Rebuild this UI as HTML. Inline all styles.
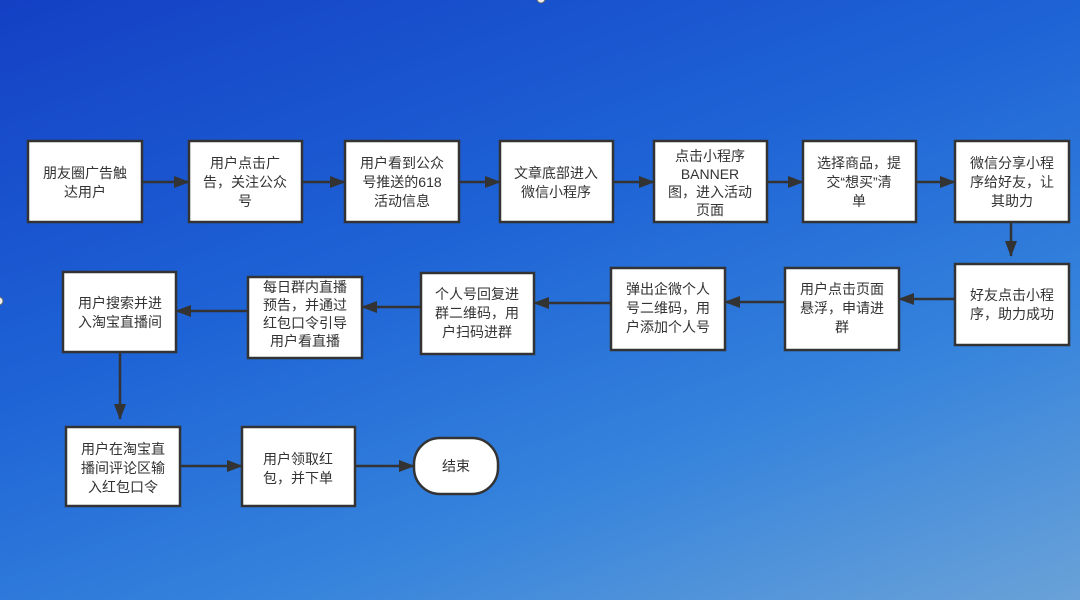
<!DOCTYPE html>
<html><head><meta charset="utf-8"><style>
html,body{margin:0;padding:0;}
body{width:1080px;height:600px;overflow:hidden;background:linear-gradient(160deg,#1440c4 0%,#1e63d6 40%,#3583dc 70%,#6aa2d8 100%);}
svg{display:block}
text{font-family:"Liberation Sans","Noto Sans CJK SC",sans-serif;font-size:14px;fill:#333;text-anchor:middle;}
</style></head><body>
<svg width="1080" height="600" viewBox="0 0 1080 600">
<defs><marker id="a" markerWidth="10" markerHeight="10" refX="9" refY="5" orient="auto" markerUnits="userSpaceOnUse"><path d="M0,0 L10,5 L0,10 z" fill="#333"/></marker>
<marker id="ah" markerWidth="16" markerHeight="12" refX="15" refY="6" orient="auto" markerUnits="userSpaceOnUse"><path d="M0,0 L16,6 L0,12 z" fill="#333"/></marker></defs>
<circle cx="541" cy="-1" r="4" fill="#eee" stroke="#666"/>
<circle cx="-1" cy="301" r="4" fill="#eee" stroke="#666"/>
<g stroke="#333" stroke-width="2.5" fill="none" marker-end="url(#ah)">
<line x1="142" y1="182" x2="189" y2="182"/>
<line x1="302" y1="182" x2="345" y2="182"/>
<line x1="459" y1="182" x2="500" y2="182"/>
<line x1="613" y1="182" x2="654" y2="182"/>
<line x1="767" y1="182" x2="803" y2="182"/>
<line x1="916" y1="182" x2="955" y2="182"/>
<line x1="1011" y1="222" x2="1011" y2="256"/>
<line x1="955" y1="299" x2="899" y2="299"/>
<line x1="785" y1="302" x2="725" y2="302"/>
<line x1="611" y1="303" x2="534" y2="303"/>
<line x1="421" y1="307" x2="362" y2="307"/>
<line x1="248" y1="311" x2="176" y2="311"/>
<line x1="120" y1="352" x2="120" y2="419"/>
<line x1="180" y1="466" x2="242" y2="466"/>
<line x1="355" y1="466" x2="414" y2="466"/>
</g>
<g fill="#fff" stroke="#333" stroke-width="2.5">
<rect x="28" y="141" width="114" height="81"/>
<rect x="189" y="141" width="113" height="81"/>
<rect x="345" y="141" width="114" height="81"/>
<rect x="500" y="141" width="113" height="81"/>
<rect x="654" y="141" width="113" height="81"/>
<rect x="803" y="141" width="113" height="81"/>
<rect x="955" y="141" width="114" height="81"/>
<rect x="955" y="264" width="114" height="81"/>
<rect x="785" y="268" width="114" height="82"/>
<rect x="611" y="268" width="114" height="82"/>
<rect x="421" y="273" width="113" height="81"/>
<rect x="248" y="277" width="114" height="81"/>
<rect x="63" y="272" width="113" height="80"/>
<rect x="66" y="427" width="114" height="79"/>
<rect x="242" y="427" width="113" height="79"/>
<rect x="414" y="438" width="84" height="56" rx="26"/>
</g>
<text x="85" y="178">朋友圈广告触</text><text x="85" y="197">达用户</text>
<text x="245" y="168">用户点击广</text><text x="245" y="187">告，关注公众</text><text x="245" y="206">号</text>
<text x="402" y="168">用户看到公众</text><text x="402" y="187">号推送的618</text><text x="402" y="206">活动信息</text>
<text x="556" y="178">文章底部进入</text><text x="556" y="197">微信小程序</text>
<text x="710" y="161">点击小程序</text><text x="710" y="179">BANNER</text><text x="710" y="197">图，进入活动</text><text x="710" y="215">页面</text>
<text x="859" y="168">选择商品，提</text><text x="859" y="187">交“想买”清</text><text x="859" y="206">单</text>
<text x="1012" y="168">微信分享小程</text><text x="1012" y="187">序给好友，让</text><text x="1012" y="206">其助力</text>
<text x="1012" y="300">好友点击小程</text><text x="1012" y="319">序，助力成功</text>
<text x="842" y="294">用户点击页面</text><text x="842" y="313">悬浮，申请进</text><text x="842" y="332">群</text>
<text x="668" y="294">弹出企微个人</text><text x="668" y="313">号二维码，用</text><text x="668" y="332">户添加个人号</text>
<text x="477" y="299">个人号回复进</text><text x="477" y="318">群二维码，用</text><text x="477" y="337">户扫码进群</text>
<text x="305" y="292">每日群内直播</text><text x="305" y="310">预告，并通过</text><text x="305" y="328">红包口令引导</text><text x="305" y="346">用户看直播</text>
<text x="120" y="308">用户搜索并进</text><text x="120" y="327">入淘宝直播间</text>
<text x="123" y="454">用户在淘宝直</text><text x="123" y="473">播间评论区输</text><text x="123" y="492">入红包口令</text>
<text x="298" y="464">用户领取红</text><text x="298" y="483">包，并下单</text>
<text x="456" y="471">结束</text>
</svg>
</body></html>
